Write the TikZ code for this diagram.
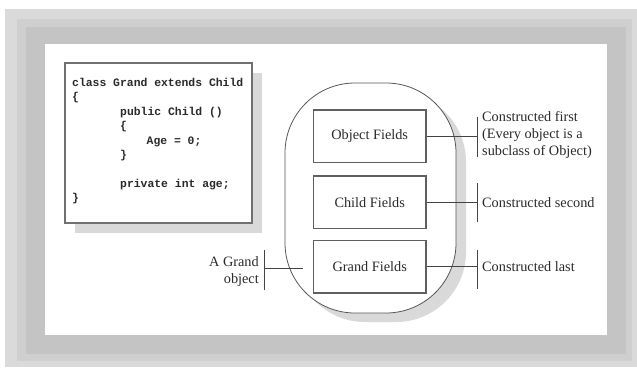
\documentclass[tikz,border=0pt]{standalone}
\usepackage{fontspec}
\setmainfont{Liberation Serif}
\newfontfamily\codefont{Liberation Mono}
\usetikzlibrary{shadows}
\definecolor{bgA}{HTML}{DADADA}
\definecolor{bgB}{HTML}{CFCFCF}
\definecolor{bgC}{HTML}{C4C4C4}
\definecolor{shadowc}{HTML}{D9D9D9}
\definecolor{txt}{HTML}{2A2A2A}
\definecolor{boxc}{HTML}{606060}
\definecolor{codeb}{HTML}{707070}
\definecolor{ovalc}{HTML}{555555}
\definecolor{linec}{HTML}{444444}
\begin{document}
\begin{tikzpicture}[x=1pt,y=-1pt,
  lbl/.style={font=\fontsize{14.3}{16.7}\selectfont, text=txt, inner sep=0pt},
  codeline/.style={font=\codefont\bfseries\fontsize{11.4}{14.4}\selectfont, text=txt, inner sep=0pt, anchor=base west},
  field/.style={draw=boxc, line width=1.2pt, fill=white, minimum width=112.7pt, minimum height=52.5pt, inner sep=0pt, font=\fontsize{14.3}{16.7}\selectfont, text=txt},
  conn/.style={draw=linec, line width=0.8pt},
  bar/.style={draw=linec, line width=1pt}]
\useasboundingbox (0,0) rectangle (637,367);
\fill[white] (0,0) rectangle (637,367);
\fill[bgA] (5,9) rectangle (637,367);
\fill[bgB] (17,19) rectangle (632,361);
\fill[bgC] (26,27) rectangle (626,354);
\fill[white] (45,44) rectangle (607,335);
% code box
\node[draw=codeb, line width=1.5pt, fill=white, minimum width=187pt, minimum height=160pt,
  drop shadow={shadow xshift=10pt,shadow yshift=-10pt,fill=shadowc,opacity=1}] (codebox) at (158.5,143) {};
\node[codeline] (c1) at (72,86.5) {class Grand extends Child};
\node[codeline] (c2) at (72,100.9) {\{};
\node[codeline] (c3) at (120,115.3) {public Child ()};
\node[codeline] (c4) at (120,129.7) {\{};
\node[codeline] (c5) at (146.5,144.1) {Age = 0;};
\node[codeline] (c6) at (120,158.5) {\}};
\node[codeline] (c7) at (120,187.3) {private int age;};
\node[codeline] (c8) at (72,201.7) {\}};
% oval
\node[draw=ovalc, line width=0.8pt, fill=white, rounded corners=70pt, minimum width=171pt, minimum height=230pt,
  drop shadow={shadow xshift=10pt,shadow yshift=-9pt,fill=shadowc,opacity=1}] (oval) at (370.5,198) {};
% fields
\node[field] (obj) at (369.7,136.3) {Object Fields};
\node[field] (child) at (369.7,202.2) {Child Fields};
\node[field] (grand) at (369.7,266.7) {Grand Fields};
% bars
\coordinate (b1t) at (477,117); \coordinate (b1b) at (477,157);
\coordinate (b2t) at (477,183); \coordinate (b2b) at (477,222);
\coordinate (b3t) at (477,250); \coordinate (b3b) at (477,289);
\draw[bar] (b1t) -- (b1b);
\draw[bar] (b2t) -- (b2b);
\draw[bar] (b3t) -- (b3b);
\draw[conn] (obj.east) -- (obj.east -| b1t);
\draw[conn] (child.east) -- (child.east -| b2t);
\draw[conn] (grand.east) -- (grand.east -| b3t);
\node[lbl, anchor=west, align=left] (l1) at (482,135) {Constructed first\\(Every object is a\\subclass of Object)};
\node[lbl, anchor=west] (l2) at (482,202.7) {Constructed second};
\node[lbl, anchor=west] (l3) at (482,266.7) {Constructed last};
% left label
\coordinate (g1t) at (264,250); \coordinate (g1b) at (264,290);
\coordinate (gend) at (303,268);
\draw[bar] (g1t) -- (g1b);
\draw[conn] (g1t |- gend) -- (gend);
\node[lbl, anchor=east, align=right] (ag) at (259,271.3) {A Grand\\object};
\end{tikzpicture}
\end{document}
